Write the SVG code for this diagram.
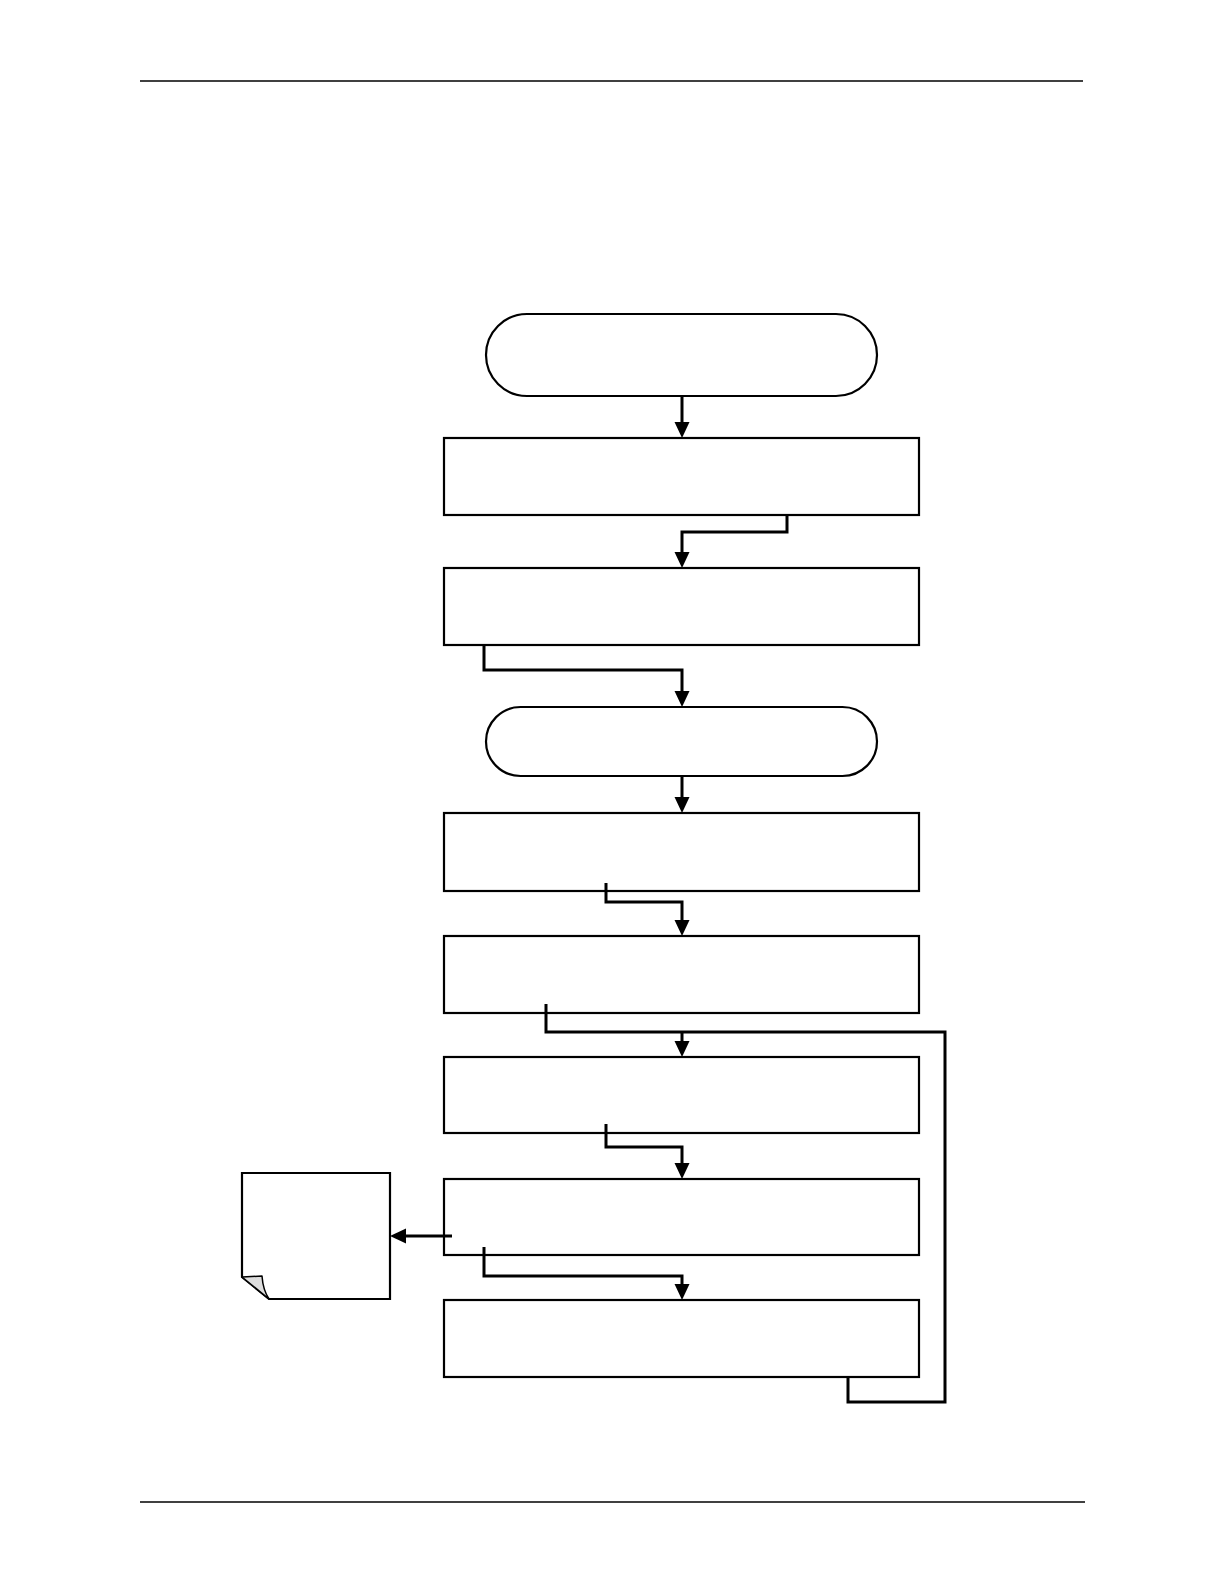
<svg xmlns="http://www.w3.org/2000/svg" width="1224" height="1584" viewBox="0 0 1224 1584">
<style>
.box{fill:#fff;stroke:#000;stroke-width:2.2}
.rule{stroke:#000;stroke-width:1.6}
.conn{fill:none;stroke:#000;stroke-width:3;stroke-linejoin:miter}
</style>
<defs>
<marker id="ah" markerUnits="userSpaceOnUse" markerWidth="18" markerHeight="16" refX="10" refY="7.5" orient="auto">
<path d="M0,0 L16,7.5 L0,15 z" fill="#000"/>
</marker>
</defs>
<rect width="1224" height="1584" fill="#fff"/>
<line class="rule" x1="140" y1="81" x2="1083" y2="81"/>
<line class="rule" x1="140" y1="1502" x2="1085" y2="1502"/>

<g id="start"><rect class="box" x="486" y="314" width="391" height="82" rx="41" ry="41"/></g>
<g id="step1"><rect class="box" x="444" y="438" width="475" height="77"/></g>
<g id="step2"><rect class="box" x="444" y="568" width="475" height="77"/></g>
<g id="mid"><rect class="box" x="486" y="707" width="391" height="69" rx="34.5" ry="34.5"/></g>
<g id="step3"><rect class="box" x="444" y="813" width="475" height="78"/></g>
<g id="step4"><rect class="box" x="444" y="936" width="475" height="77"/></g>
<g id="step5"><rect class="box" x="444" y="1057" width="475" height="76"/></g>
<g id="step6"><rect class="box" x="444" y="1179" width="475" height="76"/></g>
<g id="step7"><rect class="box" x="444" y="1300" width="475" height="77"/></g>
<g id="doc">
<path class="box" d="M242,1173 L390,1173 L390,1299 L269,1299 L242,1277 Z"/>
<path d="M242,1277 L262,1276 Q263,1290 269,1299 Z" fill="#ddd" stroke="#000" stroke-width="1.5" stroke-linejoin="round"/>
</g>

<g id="connectors">
<path class="conn" d="M682,396 L682,432" marker-end="url(#ah)"/>
<path class="conn" d="M787,515 L787,532 L682,532 L682,562" marker-end="url(#ah)"/>
<path class="conn" d="M484,645 L484,670 L682,670 L682,701" marker-end="url(#ah)"/>
<path class="conn" d="M682,776 L682,807" marker-end="url(#ah)"/>
<path class="conn" d="M606,883 L606,902 L682,902 L682,930" marker-end="url(#ah)"/>
<path class="conn" d="M546,1004 L546,1032 L945,1032 L945,1402 L848,1402 L848,1377"/>
<path class="conn" d="M682,1032 L682,1051" marker-end="url(#ah)"/>
<path class="conn" d="M606,1124 L606,1147 L682,1147 L682,1173" marker-end="url(#ah)"/>
<path class="conn" d="M452,1236 L396,1236" marker-end="url(#ah)"/>
<path class="conn" d="M484,1247 L484,1276 L682,1276 L682,1294" marker-end="url(#ah)"/>
</g>
</svg>
